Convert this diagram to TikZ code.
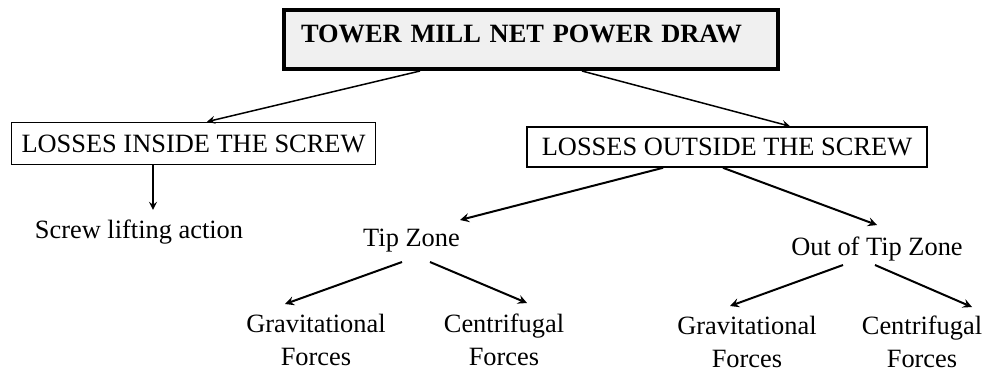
\documentclass[tikz,border=0pt]{standalone}
\usepackage{fontspec}
\setmainfont{Liberation Serif}
\usepackage{tikz}
\usetikzlibrary{calc}
\tikzset{>={stealth[scale=1.3]}}
\tikzset{
  lossbox/.style={draw,line width=0.8pt,inner xsep=3pt},
  branch/.style={align=center},
  link/.style={line width=0.75pt,->},
  sublink/.style={line width=1pt,->}
}

\begin{document}
\begin{tikzpicture}[x=0.5pt,y=-0.5pt,font=\fontsize{13.2}{16.5}\selectfont]
  \useasboundingbox (0,0) rectangle (989,372);
  % top of the tree
  \node[draw,line width=2pt,fill=gray!12,minimum height=29.5pt,text width=230pt,inner xsep=8.5pt,
        text depth=5.5pt,align=left,font=\fontsize{13.2}{16.5}\selectfont\bfseries] (power) at (531,39.5) {TOWER MILL NET POWER DRAW};
  % the two kinds of losses
  \node[lossbox,minimum width=182pt,minimum height=21pt] (inside) at (193.5,143.5) {LOSSES INSIDE THE SCREW};
  \node[lossbox,minimum width=200pt,minimum height=20pt] (outside) at (727,147) {LOSSES OUTSIDE THE SCREW};
  \node[branch] (screw) at (139,232) {Screw lifting action};
  \node[branch] (tip) at (411.5,241) {Tip Zone};
  \node[branch] (outtip) at (877,249) {Out of Tip Zone};
  \node[branch] (gravtip) at (316,339.5) {Gravitational\\Forces};
  \node[branch] (centtip) at (504,339.5) {Centrifugal\\Forces};
  \node[branch] (gravout) at (747,342) {Gravitational\\Forces};
  \node[branch] (centout) at (922,342) {Centrifugal\\Forces};

  \draw[link] ($(power.south)+(-111,0)$) -- ($(inside.north)+(13.5,0)$);
  \draw[link] ($(power.south)+(51,0)$) -- ($(outside.north)+(63,0)$);
  \draw[link] ($(inside.south)+(-40.5,0)$) coordinate (drop) -- ($(drop |- screw.north)+(0,-3)$);

  \draw[sublink] ($(outside.south)+(-64,0)$) -- ($(tip)+(48.5,-21)$);
  \draw[sublink] ($(outside.south)+(-4,0)$) -- ($(outtip)+(0,-24)$);
  \draw[sublink] ($(tip)+(-9.5,21)$) -- ($(gravtip)+(-31,-35.5)$);
  \draw[sublink] ($(tip)+(18.5,21)$) -- ($(centtip)+(23,-36.5)$);
  \draw[sublink] ($(outtip)+(-34,16)$) -- ($(gravout)+(-17,-36)$);
  \draw[sublink] ($(outtip)+(-2,16)$) -- ($(centout)+(50,-35)$);
\end{tikzpicture}
\end{document}
